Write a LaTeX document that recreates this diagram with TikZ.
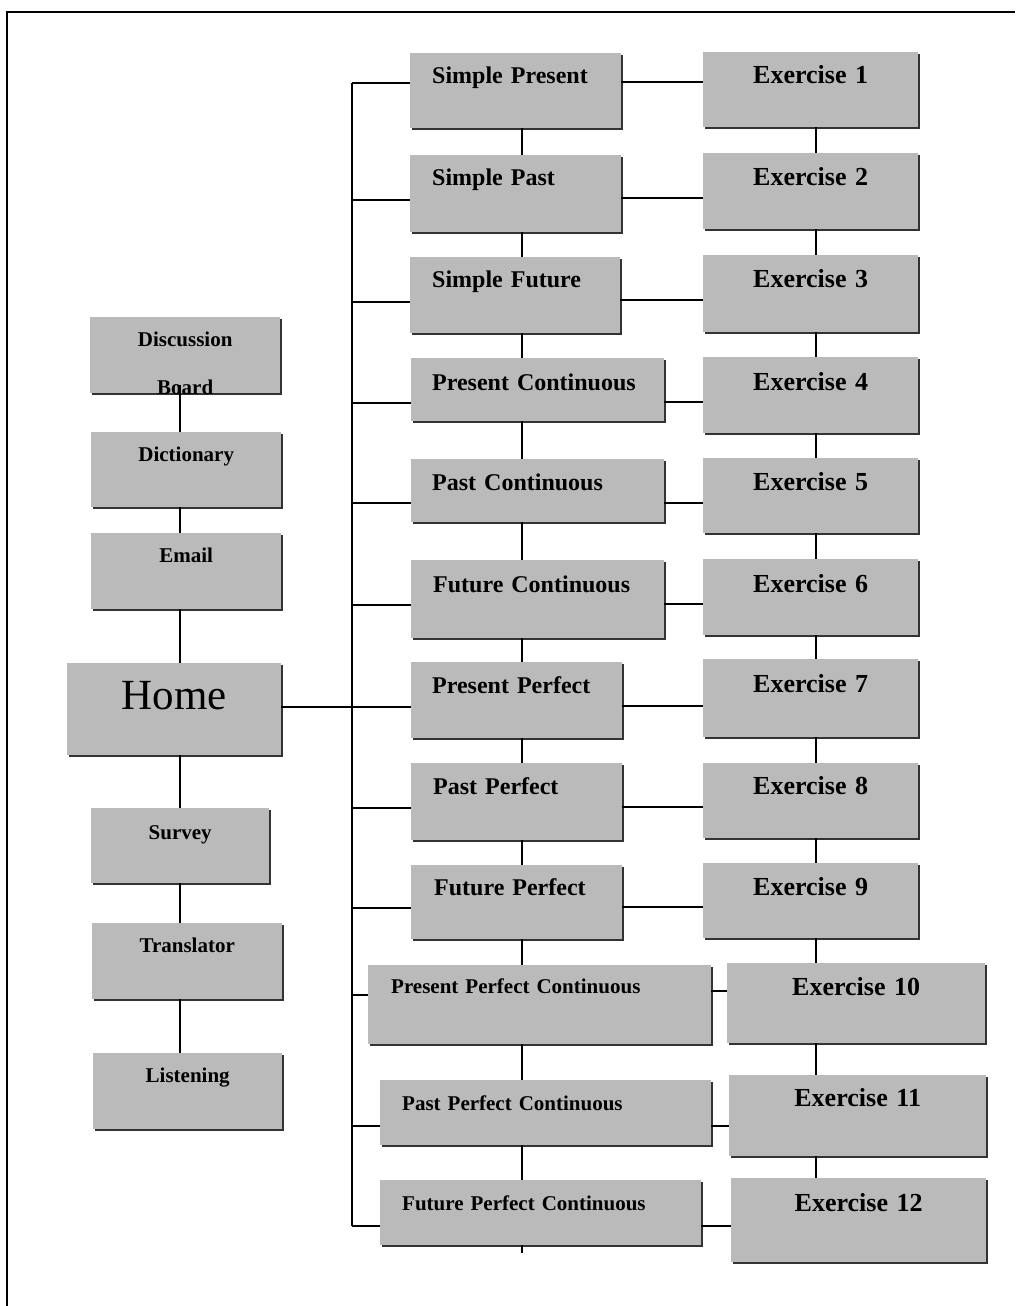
\documentclass[tikz,border=0pt]{standalone}
\usepackage{fontspec}
\setmainfont{Liberation Serif}
\usetikzlibrary{shadows}
\definecolor{boxgray}{gray}{0.73}
\tikzset{
  bx/.style={draw=none, fill=boxgray, inner ysep=0pt, anchor=north west,
    drop shadow={shadow xshift=2pt, shadow yshift=-2pt, fill=black!80, opacity=1}},
  bxl/.style n args={4}{bx, text width=#1pt, inner xsep=#2pt, text height=#3pt, text depth=#4pt, align=left},
  bxc/.style n args={3}{bx, text width=#1pt, inner xsep=0pt, text height=#2pt, text depth=#3pt, align=center},
  fT/.style={font=\fontsize{24}{26}\selectfont\bfseries},
  fS/.style={font=\fontsize{21}{24}\selectfont\bfseries},
  fE/.style={font=\fontsize{26}{28}\selectfont\bfseries},
  fL/.style={font=\fontsize{21}{48}\selectfont\bfseries},
  conn/.style={line width=1.8pt, black},
  frame/.style={line width=1.6pt, black}
}
\begin{document}
\begin{tikzpicture}[x=1pt,y=-1pt]
\useasboundingbox (0,0) rectangle (1015,1306);
\draw[frame] (7,1306) -- (7,12) -- (1015,12);

\coordinate (mx) at (522,0);
\coordinate (ex) at (816,0);
\coordinate (lx) at (180,0);
\coordinate (tk) at (352,0);

% left column
\node[bxc={190}{29}{47}, fL] (disc) at (90,317) {Discussion\\Board};
\node[bxc={190}{29}{46}, fL] (dict) at (91,432) {Dictionary};
\node[bxc={190}{29}{47}, fL] (email) at (91,533) {Email};
\node[bxc={214}{46}{46}, font=\fontsize{43}{46}\selectfont] (home) at (67,663) {Home};
\node[bxc={178}{31}{44}, fL] (survey) at (91,808) {Survey};
\node[bxc={190}{29}{47}, fL] (trans) at (92,923) {Translator};
\node[bxc={189}{29}{47}, fL] (listen) at (93,1053) {Listening};

% tenses
\node[bxl={167}{22}{30}{45}, fT] (sp) at (410,53) {Simple Present};
\node[bxl={167}{22}{30}{47}, fT] (spa) at (410,155) {Simple Past};
\node[bxl={166}{22}{30}{46}, fT] (sf) at (410,257) {Simple Future};
\node[bxl={211}{21}{32}{31}, fT] (pc) at (411,358) {Present Continuous};
\node[bxl={211}{21}{31}{32}, fT] (pac) at (411,459) {Past Continuous};
\node[bxl={209}{22}{32}{46}, fT] (fc) at (411,560) {Future Continuous};
\node[bxl={169}{21}{31}{45}, fT] (pp) at (411,662) {Present Perfect};
\node[bxl={167}{22}{31}{46}, fT] (pap) at (411,763) {Past Perfect};
\node[bxl={165}{23}{30}{44}, fT] (fp) at (411,865) {Future Perfect};
\node[bxl={297}{23}{28}{51}, fS] (ppc) at (368,965) {Present Perfect Continuous};
\node[bxl={287}{22}{30}{35}, fS] (papc) at (380,1080) {Past Perfect Continuous};
\node[bxl={277}{22}{30}{35}, fS] (fpc) at (380,1180) {Future Perfect Continuous};

% exercises
\node[bxc={215}{31}{44}, fE] (e1) at (703,52) {Exercise 1};
\node[bxc={215}{32}{44}, fE] (e2) at (703,153) {Exercise 2};
\node[bxc={215}{32}{45}, fE] (e3) at (703,255) {Exercise 3};
\node[bxc={215}{33}{43}, fE] (e4) at (703,357) {Exercise 4};
\node[bxc={215}{32}{43}, fE] (e5) at (703,458) {Exercise 5};
\node[bxc={215}{33}{43}, fE] (e6) at (703,559) {Exercise 6};
\node[bxc={215}{33}{45}, fE] (e7) at (703,659) {Exercise 7};
\node[bxc={215}{31}{44}, fE] (e8) at (703,763) {Exercise 8};
\node[bxc={215}{32}{43}, fE] (e9) at (703,863) {Exercise 9};
\node[bxc={258}{32}{48}, fE] (e10) at (727,963) {Exercise 10};
\node[bxc={257}{31}{50}, fE] (e11) at (729,1075) {Exercise 11};
\node[bxc={255}{33}{51}, fE] (e12) at (731,1178) {Exercise 12};

% left verticals
\draw[conn] ([yshift=8pt]disc.south -| lx) -- (dict.north -| lx);
\draw[conn] (dict.south -| lx) -- (email.north -| lx);
\draw[conn] (email.south -| lx) -- (home.north -| lx);
\draw[conn] (home.south -| lx) -- (survey.north -| lx);
\draw[conn] (survey.south -| lx) -- (trans.north -| lx);
\draw[conn] (trans.south -| lx) -- (listen.north -| lx);

% trunk
\draw[conn] (tk |- 0,83) -- (tk |- 0,1226);
\draw[conn] (home.east |- 0,707) -- (tk |- 0,707);

\foreach \b/\e/\ty/\my in {sp/e1/83/82, spa/e2/200/198, sf/e3/302/300, pc/e4/403/402,
  pac/e5/503/503, fc/e6/605/604, pp/e7/707/706, pap/e8/808/807, fp/e9/908/907,
  ppc/e10/995/991, papc/e11/1126/1126, fpc/e12/1226/1226}{
  \draw[conn] (tk |- 0,\ty) -- (\b.west |- 0,\ty);
  \draw[conn] (\b.east |- 0,\my) -- (\e.west |- 0,\my);
}

% middle verticals
\foreach \a/\b in {sp/spa, spa/sf, sf/pc, pc/pac, pac/fc, fc/pp, pp/pap, pap/fp, fp/ppc, ppc/papc, papc/fpc}{
  \draw[conn] (\a.south -| mx) -- (\b.north -| mx);
}
\draw[conn] (fpc.south -| mx) -- ++(0,8);

% exercise verticals
\foreach \a/\b in {e1/e2, e2/e3, e3/e4, e4/e5, e5/e6, e6/e7, e7/e8, e8/e9, e9/e10, e10/e11, e11/e12}{
  \draw[conn] (\a.south -| ex) -- (\b.north -| ex);
}
\end{tikzpicture}
\end{document}
